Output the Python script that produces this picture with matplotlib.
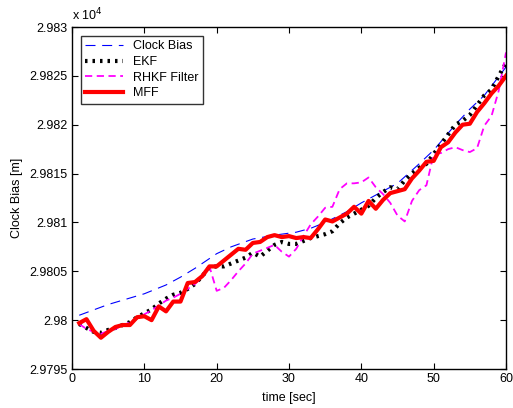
import numpy as np
import matplotlib
matplotlib.use('Agg')
import matplotlib.pyplot as plt

# ------------------------------------------------------------------------------
# Data
# ------------------------------------------------------------------------------
t_bias = [1, 5, 10, 13, 15, 17, 20, 22, 25, 28, 31, 33, 35, 38, 40, 43, 45,
          48, 50, 53, 55, 57, 60]
clock_bias = [29800.5, 29801.6, 29802.7, 29803.6, 29804.4, 29805.3, 29806.8,
              29807.5, 29808.3, 29808.7, 29809.0, 29809.4, 29810.0, 29811.1,
              29812.0, 29813.2, 29814.0, 29816.0, 29817.4, 29820.0, 29821.6,
              29823.0, 29825.9]

t = list(range(1, 61))

ekf = [29799.6, 29799.2, 29798.8, 29798.7, 29799.0, 29799.2, 29799.5, 29799.8,
       29800.3, 29800.7, 29801.1, 29801.7, 29802.2, 29802.6, 29802.8, 29803.2,
       29803.7, 29804.5, 29805.4, 29805.5, 29805.5, 29805.8, 29806.1, 29806.4,
       29806.9, 29806.5, 29807.1, 29807.7, 29808.0, 29807.8, 29807.8, 29808.1,
       29808.4, 29808.6, 29808.8, 29809.1, 29809.9, 29810.5, 29810.9, 29811.3,
       29811.7, 29812.5, 29813.1, 29813.6, 29813.4, 29814.3, 29815.0, 29815.6,
       29816.0, 29817.0, 29818.0, 29819.0, 29820.0, 29820.4, 29821.0, 29822.0,
       29823.0, 29823.6, 29825.0, 29826.3]

rhkf = [29799.6, 29799.1, 29798.8, 29798.6, 29798.9, 29799.1, 29799.4, 29799.8,
        29800.2, 29800.6, 29801.0, 29801.5, 29802.0, 29802.3, 29802.7, 29803.2,
        29803.7, 29804.4, 29805.5, 29803.0, 29803.3, 29804.1, 29805.0, 29805.8,
        29806.8, 29807.1, 29807.4, 29807.7, 29807.0, 29806.5, 29807.3, 29808.6,
        29809.8, 29810.6, 29811.5, 29811.6, 29813.4, 29814.0, 29814.0, 29814.1,
        29814.6, 29813.6, 29812.9, 29812.0, 29810.7, 29810.1, 29812.2, 29813.3,
        29813.8, 29817.0, 29817.1, 29817.5, 29817.7, 29817.4, 29817.2, 29817.6,
        29819.9, 29820.9, 29823.5, 29827.4]

mff = [29799.7, 29800.1, 29798.9, 29798.2, 29798.8, 29799.3, 29799.5, 29799.5,
       29800.3, 29800.4, 29800.0, 29801.4, 29800.9, 29801.9, 29801.9, 29803.8,
       29803.9, 29804.5, 29805.5, 29805.5, 29806.1, 29806.7, 29807.3, 29807.2,
       29807.9, 29808.0, 29808.5, 29808.7, 29808.5, 29808.6, 29808.4, 29808.5,
       29808.4, 29809.3, 29810.3, 29810.1, 29810.5, 29810.9, 29811.6, 29810.9,
       29812.2, 29811.4, 29812.3, 29813.0, 29813.2, 29813.4, 29814.5, 29815.3,
       29816.2, 29816.3, 29817.7, 29818.2, 29819.2, 29820.0, 29820.1, 29821.3,
       29822.2, 29823.2, 29824.0, 29825.0]

y_ticks = [29795, 29800, 29805, 29810, 29815, 29820, 29825, 29830]
y_tick_labels = ['2.9795', '2.98', '2.9805', '2.981', '2.9815', '2.982',
                 '2.9825', '2.983']
x_ticks = [0, 10, 20, 30, 40, 50, 60]

# ------------------------------------------------------------------------------
# Plot
# ------------------------------------------------------------------------------
plt.rcParams['font.family'] = ['Liberation Sans', 'DejaVu Sans']
plt.rcParams['font.size'] = 9

fig = plt.figure(figsize=(5.13, 4.08), dpi=100)
ax = fig.add_axes([72 / 513, 1 - 369 / 408, 434 / 513, 342 / 408])

ax.plot(t_bias, clock_bias, c='#0000ff', lw=0.8, dashes=(9, 6),
        label='Clock Bias')
ax.plot(t, ekf, c='black', lw=3, linestyle=(0, (0.6, 1.2)),
        label='EKF')
ax.plot(t, rhkf, c='#ff00ff', lw=1.3, dashes=(4, 2.5),
        label='RHKF Filter')
ax.plot(t, mff, c='#ff0000', lw=3, label='MFF')

ax.set_xlim([0, 60])
ax.set_ylim([29795, 29830])
ax.set_xticks(x_ticks)
ax.set_yticks(y_ticks)
ax.set_yticklabels(y_tick_labels)
ax.tick_params(direction='in', top=True, right=True, length=4, width=0.8,
               labelsize=9, pad=3)
for sp in ax.spines.values():
    sp.set_linewidth(1)

ax.set_xlabel('time [sec]', fontsize=9, labelpad=5)
ax.set_ylabel('Clock Bias [m]', fontsize=9, labelpad=5)
ax.text(0, 1.01, 'x 10$^4$', transform=ax.transAxes, fontsize=9,
        ha='left', va='bottom')

leg = ax.legend(loc='upper left', fontsize=9, frameon=True, fancybox=False,
                edgecolor='black', handlelength=3.0, borderaxespad=0.7,
                labelspacing=0.3, borderpad=0.35, handletextpad=0.8)
leg.get_frame().set_linewidth(1)

plt.savefig('out.png', dpi=100)
